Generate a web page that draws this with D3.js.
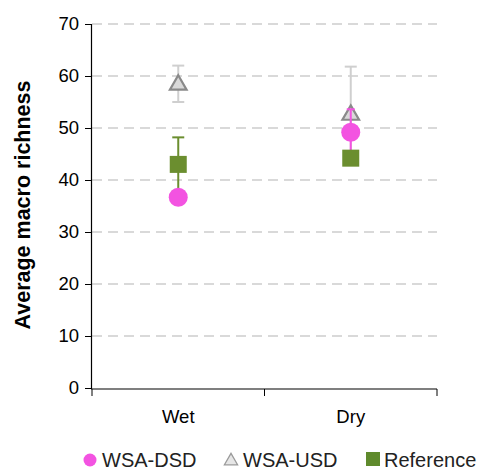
<!DOCTYPE html>
<html>
<head>
<meta charset="utf-8">
<script src="https://cdn.jsdelivr.net/npm/d3@7"></script>
<style>
  html, body { margin: 0; padding: 0; background: #fff; }
  svg { display: block; }
</style>
</head>
<body>
<svg id="chart" width="486" height="471"></svg>
<script>
// Seasons on the x axis
const seasons = ["Wet", "Dry"];
// Mean macroinvertebrate richness per site group, with error (± value)
const dsdMean = [36.7, 49.2];
const dsdErr  = [0, 4.4];
const usdMean = [58.5, 52.7];
const usdErr  = [3.5, 9.1];
const refMean = [43.0, 44.2];
const refErr  = [5.2, 0];
// Axis ticks
const yTicks = [0, 10, 20, 30, 40, 50, 60, 70];
const legendLabels = ["WSA-DSD", "WSA-USD", "Reference"];

const svg = d3.select("#chart");
const x = d3.scaleBand().domain(seasons).range([92, 437]);
const y = d3.scaleLinear().domain([0, 70]).range([388, 24]);
const cx = d => x(d) + x.bandwidth() / 2;

// Dashed horizontal gridlines
svg.append("g").selectAll("line").data(yTicks.filter(t => t > 0)).join("line")
  .attr("x1", 92).attr("x2", 437)
  .attr("y1", d => y(d)).attr("y2", d => y(d))
  .attr("stroke", "#d9d9d9").attr("stroke-width", 2)
  .attr("stroke-dasharray", "10,6");

// Y axis
const yAxis = svg.append("g").attr("transform", "translate(91,0)")
  .call(d3.axisLeft(y).tickValues(yTicks).tickSize(6).tickPadding(6));
yAxis.select(".domain").attr("stroke", "#000").attr("stroke-width", 1.2);
yAxis.selectAll(".tick line").attr("stroke", "#000");
yAxis.selectAll("text").attr("font-family", "Liberation Sans, Arial, sans-serif")
  .attr("font-size", 18.5).attr("fill", "#000");

// X axis: line with ticks at category boundaries
const xg = svg.append("g");
xg.append("line").attr("x1", 91).attr("x2", 437).attr("y1", 389).attr("y2", 389)
  .attr("stroke", "#000").attr("stroke-width", 1.2);
const bounds = [x.range()[0], x(seasons[1]), x.range()[1]];
xg.selectAll("line.bt").data(bounds).join("line").attr("class", "bt")
  .attr("x1", d => d).attr("x2", d => d).attr("y1", 389).attr("y2", 396)
  .attr("stroke", "#000").attr("stroke-width", 1);
xg.selectAll("text").data(seasons).join("text")
  .attr("x", d => cx(d)).attr("y", 423).attr("text-anchor", "middle")
  .attr("font-family", "Liberation Sans, Arial, sans-serif").attr("font-size", 18.5)
  .text(d => d);

// Y axis title
svg.append("text")
  .attr("transform", "translate(30,205) rotate(-90)")
  .attr("text-anchor", "middle")
  .attr("font-family", "Liberation Sans, Arial, sans-serif")
  .attr("font-size", 21.5).attr("font-weight", "bold")
  .text("Average macro richness");

// Error bars
function errorBars(mean, err, color, capW) {
  const g = svg.append("g");
  seasons.forEach((s, i) => {
    if (!err[i]) return;
    const lo = y(mean[i] - err[i]), hi = y(mean[i] + err[i]);
    g.append("line").attr("x1", cx(s)).attr("x2", cx(s)).attr("y1", lo).attr("y2", hi)
      .attr("stroke", color).attr("stroke-width", 2);
    [lo, hi].forEach(v => g.append("line")
      .attr("x1", cx(s) - capW / 2).attr("x2", cx(s) + capW / 2).attr("y1", v).attr("y2", v)
      .attr("stroke", color).attr("stroke-width", 2));
  });
}

const pink = "#f353e1", green = "#6b8e2f", triFill = "#d9d9d9", triStroke = "#8a8a8a";

// WSA-USD
errorBars(usdMean, usdErr, "#cfcfcf", 12);
const tri = d3.symbol().type(d3.symbolTriangle).size(120);
svg.append("g").selectAll("path").data(seasons).join("path")
  .attr("d", tri)
  .attr("transform", (d, i) => `translate(${cx(d)},${y(usdMean[i]) + 1})`)
  .attr("fill", triFill).attr("stroke", triStroke).attr("stroke-width", 2.2);

// WSA-DSD
errorBars(dsdMean, dsdErr, pink, 8);

// Reference
errorBars(refMean, refErr, green, 12);
svg.append("g").selectAll("rect").data(seasons).join("rect")
  .attr("x", d => cx(d) - 8.5).attr("y", (d, i) => y(refMean[i]) - 8.5)
  .attr("width", 17).attr("height", 17).attr("fill", green);

svg.append("g").selectAll("circle").data(seasons).join("circle")
  .attr("cx", d => cx(d)).attr("cy", (d, i) => y(dsdMean[i]))
  .attr("r", 9.5).attr("fill", pink);

// Legend
const lg = svg.append("g").attr("font-family", "Liberation Sans, Arial, sans-serif")
  .attr("font-size", 20).attr("fill", "#222");
const lx = [102, 243, 384];
lg.append("circle").attr("cx", 90).attr("cy", 460).attr("r", 6.5).attr("fill", pink);
lg.append("path").attr("d", d3.symbol().type(d3.symbolTriangle).size(75))
  .attr("transform", "translate(231,461)")
  .attr("fill", "#e6e6e6").attr("stroke", "#9a9a9a").attr("stroke-width", 1.3);
lg.append("rect").attr("x", 366).attr("y", 452).attr("width", 14).attr("height", 14).attr("fill", "#5f8a2c");
lg.selectAll("text").data(legendLabels).join("text")
  .attr("x", (d, i) => lx[i]).attr("y", 467).text(d => d);
</script>
</body>
</html>
